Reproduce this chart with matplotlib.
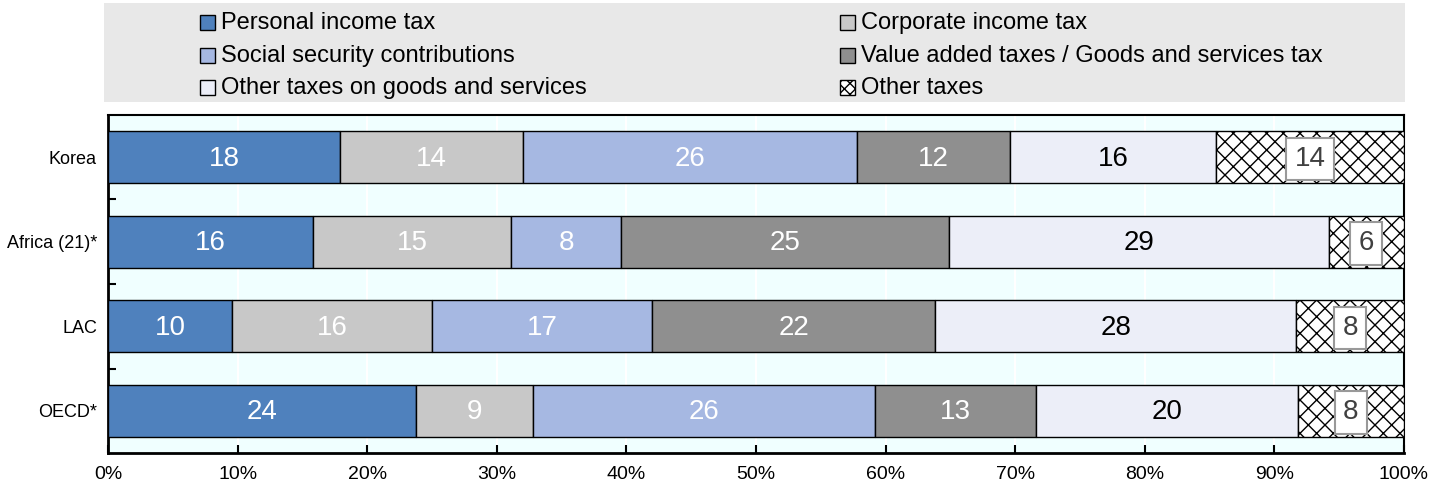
import matplotlib
matplotlib.use("Agg")
import matplotlib.pyplot as plt
from matplotlib import font_manager
from matplotlib.patches import Rectangle
import numpy as np

names = {f.name for f in font_manager.fontManager.ttflist}
FONT = "Liberation Sans Narrow" if "Liberation Sans Narrow" in names else "Liberation Sans"
plt.rcParams['font.family'] = [FONT, 'DejaVu Sans']
plt.rcParams['hatch.linewidth'] = 1.0

categories = ["Korea", "Africa (21)*", "LAC", "OECD*"]
series_names = ["Personal income tax", "Corporate income tax", "Social security contributions",
                "Value added taxes / Goods and services tax", "Other taxes on goods and services",
                "Other taxes"]
personal_income = [17.9, 15.8, 9.6, 23.8]
corporate_income = [14.1, 15.3, 15.4, 9.0]
social_security = [25.8, 8.5, 17.0, 26.4]
vat_gst = [11.8, 25.3, 21.8, 12.4]
other_goods = [15.9, 29.3, 27.9, 20.2]
other_taxes = [14.5, 5.8, 8.3, 8.2]
labels_personal = [18, 16, 10, 24]
labels_corporate = [14, 15, 16, 9]
labels_social = [26, 8, 17, 26]
labels_vat = [12, 25, 22, 13]
labels_other_goods = [16, 29, 28, 20]
labels_other = [14, 6, 8, 8]
xtick_labels = ["0%", "10%", "20%", "30%", "40%", "50%", "60%", "70%", "80%", "90%", "100%"]

series = [personal_income, corporate_income, social_security, vat_gst, other_goods, other_taxes]
labels = [labels_personal, labels_corporate, labels_social, labels_vat, labels_other_goods, labels_other]
colors = ["#4F81BD", "#C8C8C8", "#A6B8E2", "#8F8F8F", "#ECEEF8", "#FFFFFF"]
hatches = [None, None, None, None, None, "xx"]
text_colors = ["white", "white", "white", "white", "black", "#404040"]

W, H = 1440, 490
fig = plt.figure(figsize=(W / 100, H / 100), dpi=100)

ax = fig.add_axes([108 / W, 1 - 453 / H, (1404 - 108) / W, (453 - 115) / H])
ax.set_facecolor("#F0FFFF")
y = np.arange(len(categories))
left = np.zeros(len(categories))
for i, (vals, lab) in enumerate(zip(series, labels)):
    vals = np.array(vals)
    ax.barh(y, vals, left=left, height=0.62, color=colors[i], edgecolor="black",
            linewidth=1.0, hatch=hatches[i], zorder=3)
    for j in range(len(categories)):
        cx = left[j] + vals[j] / 2
        if i == 5:
            ax.text(cx, y[j] + 0.02, str(lab[j]), ha="center", va="center", fontsize=20,
                    color=text_colors[i], zorder=5,
                    bbox=dict(boxstyle="square,pad=0.3", facecolor="white", edgecolor="#999999", linewidth=1.5))
        else:
            ax.text(cx, y[j] + 0.02, str(lab[j]), ha="center", va="center", fontsize=20,
                    color=text_colors[i], zorder=5)
    left += vals

ax.set_xlim(0, 100)
ax.set_ylim(len(categories) - 0.5, -0.5)
ax.set_xticks(np.arange(0, 101, 10))
ax.set_xticklabels(xtick_labels, fontsize=14)
ax.set_yticks(y)
ax.set_yticklabels(categories, fontsize=13)
ax.set_yticks(np.arange(0.5, len(categories) - 0.5, 1), minor=True)
ax.tick_params(axis="y", which="major", length=0, pad=8)
ax.tick_params(axis="y", which="minor", direction="in", length=6, width=1.5)
ax.tick_params(axis="x", direction="in", length=6, width=1.5, pad=9)
ax.grid(axis="x", color="white", linewidth=1.5, zorder=0)
ax.set_axisbelow(True)
for side in ["left", "bottom", "top", "right"]:
    ax.spines[side].set_color("black")
    ax.spines[side].set_linewidth(1.5)
ax.spines["left"].set_linewidth(2)
ax.spines["bottom"].set_linewidth(2)

# legend panel
lax = fig.add_axes([104 / W, 1 - 102 / H, (1405 - 104) / W, 99 / H])
lax.set_xlim(104, 1405)
lax.set_ylim(102, 3)
lax.set_facecolor("#E8E8E8")
lax.set_xticks([])
lax.set_yticks([])
for s in lax.spines.values():
    s.set_visible(False)
order = [0, 2, 4, 1, 3, 5]
rows_y = [22, 55, 87]
for k, idx in enumerate(order):
    col = k // 3
    row = k % 3
    sx = 200 if col == 0 else 840
    lax.add_patch(Rectangle((sx, rows_y[row] - 7), 15, 15, facecolor=colors[idx],
                            edgecolor="black", linewidth=1.0, hatch=("xxx" if idx == 5 else None)))
    lax.text(sx + 21, rows_y[row] + 1, series_names[idx], ha="left", va="center", fontsize=17, color="black")

fig.savefig("out.png", dpi=100, facecolor="white")
